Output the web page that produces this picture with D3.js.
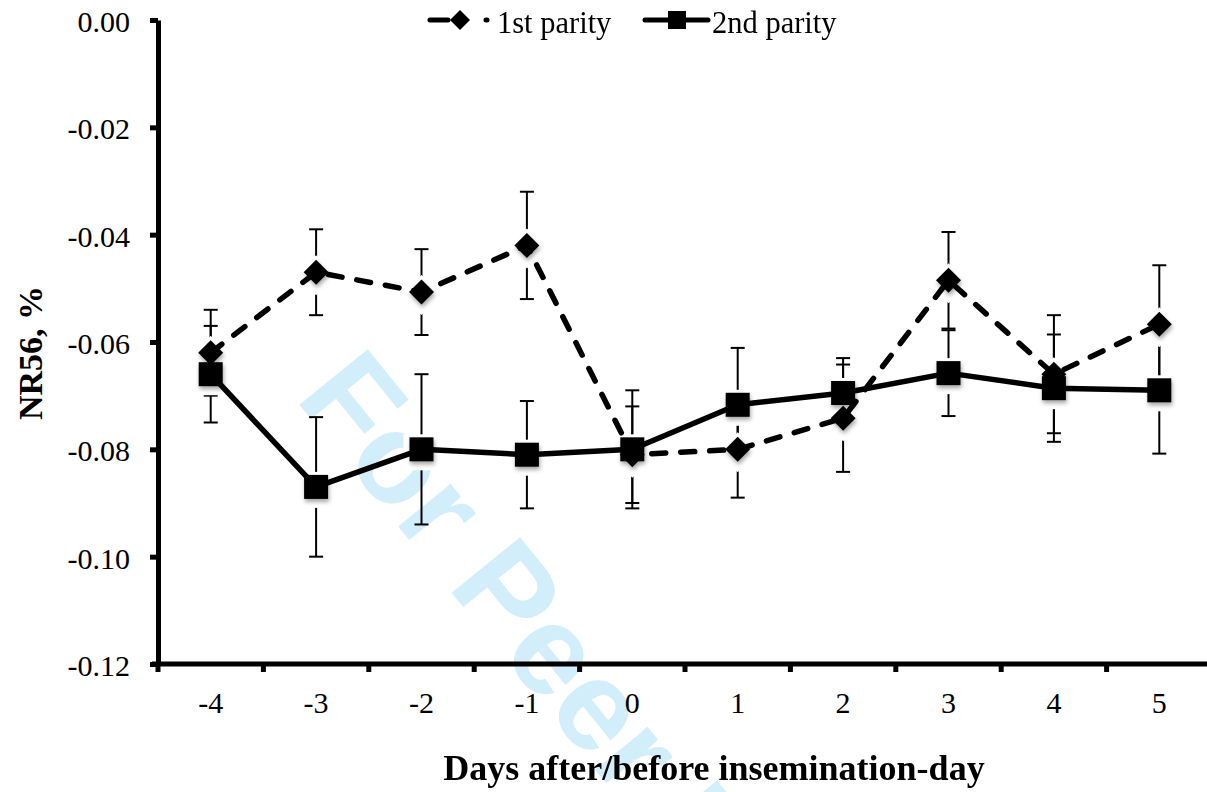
<!doctype html>
<html lang="en">

<head>
  <meta charset="UTF-8">
  <title>NR56 by day</title>
  <style type="text/css">
    * {
      padding: 0;
      margin: 0;
    }

    body {
      background: #fff;
    }

    .axis text {
      font-family: "Liberation Serif", "Times New Roman", serif;
      font-size: 30px;
      fill: #000;
    }
  </style>
  <script src="https://cdn.jsdelivr.net/npm/d3@7/dist/d3.min.js"></script>
</head>

<body>
  <svg width="1207" height="792"></svg>

  <script>
    var categories = ["-4", "-3", "-2", "-1", "0", "1", "2", "3", "4", "5"];
    var firstParity = [-0.062, -0.047, -0.0507, -0.042, -0.081, -0.080, -0.0742, -0.0485, -0.066, -0.0567];
    var firstErr = [0.008, 0.008, 0.008, 0.010, 0.009, 0.009, 0.010, 0.009, 0.011, 0.011];
    var secondParity = [-0.066, -0.087, -0.080, -0.081, -0.080, -0.0717, -0.0695, -0.0658, -0.0686, -0.069];
    var secondErr = [0.009, 0.013, 0.014, 0.010, 0.011, 0.0106, 0.0065, 0.008, 0.010, 0.0118];
    var yTicks = [0, -0.02, -0.04, -0.06, -0.08, -0.10, -0.12];
    var yTickLabels = ["0.00", "-0.02", "-0.04", "-0.06", "-0.08", "-0.10", "-0.12"];

    var serif = "'Liberation Serif', 'Times New Roman', serif";
    var svg = d3.select("svg");

    // soft shadow under the markers
    var defs = svg.append("defs");
    defs.append("filter")
      .attr("id", "shadow")
      .attr("x", "-50%").attr("y", "-50%").attr("width", "200%").attr("height", "200%")
      .append("feDropShadow")
      .attr("dx", 1).attr("dy", 3).attr("stdDeviation", 2)
      .attr("flood-color", "#000").attr("flood-opacity", 0.35);

    // watermark
    svg.append("text")
      .attr("transform", "translate(294,398) rotate(51)")
      .attr("font-family", "'Liberation Sans', Arial, sans-serif")
      .attr("font-weight", "bold")
      .attr("font-size", 128)
      .attr("fill", "#d3eefb")
      .text("For Peer Review");

    var x = d3.scaleBand()
      .domain(categories)
      .range([158, 1212])
      .paddingInner(0)
      .paddingOuter(0);

    var y = d3.scaleLinear()
      .domain([-0.12, 0])
      .range([664, 20]);

    var cx = function (i) { return x(categories[i]) + x.bandwidth() / 2; };

    var series = [
      { name: "1st parity", values: firstParity, err: firstErr, dash: "14,15", shape: "diamond" },
      { name: "2nd parity", values: secondParity, err: secondErr, dash: null, shape: "square" }
    ];

    // error bars
    var eb = svg.append("g");
    series.forEach(function (s) {
      s.values.forEach(function (v, i) {
        var px = cx(i);
        eb.append("line")
          .attr("x1", px).attr("x2", px)
          .attr("y1", y(v + s.err[i])).attr("y2", y(v - s.err[i]))
          .attr("stroke", "#000").attr("stroke-width", 2);
        [v + s.err[i], v - s.err[i]].forEach(function (e) {
          eb.append("line")
            .attr("x1", px - 7).attr("x2", px + 7)
            .attr("y1", y(e)).attr("y2", y(e))
            .attr("stroke", "#000").attr("stroke-width", 2);
        });
      });
    });

    var diamond = d3.symbol().type(d3.symbolDiamond2);

    // size = width across for squares, diagonal for diamonds
    function marker(g, shape, px, py, size) {
      if (shape === "square") {
        return g.append("rect")
          .attr("x", px - size / 2).attr("y", py - size / 2)
          .attr("width", size).attr("height", size);
      }
      var area = Math.pow(size / 1.2525, 2);
      return g.append("path")
        .attr("d", diamond.size(area)())
        .attr("transform", "translate(" + px + "," + py + ")");
    }

    // white halos behind markers
    var halo = svg.append("g");
    series.forEach(function (s) {
      s.values.forEach(function (v, i) {
        marker(halo, s.shape, cx(i), y(v) + 3, s.shape === "square" ? 36 : 40)
          .attr("fill", "#fff");
      });
    });

    // lines
    var line = d3.line()
      .x(function (d, i) { return cx(i); })
      .y(function (d) { return y(d); });

    series.forEach(function (s) {
      svg.append("path")
        .datum(s.values)
        .attr("d", line)
        .attr("fill", "none")
        .attr("stroke", "#000")
        .attr("stroke-width", 5.5)
        .attr("stroke-linecap", s.dash ? "round" : "butt")
        .attr("stroke-linejoin", "round")
        .attr("stroke-dasharray", s.dash);
    });

    // markers
    var mk = svg.append("g").attr("filter", "url(#shadow)");
    series.forEach(function (s) {
      s.values.forEach(function (v, i) {
        marker(mk, s.shape, cx(i), y(v), s.shape === "square" ? 24 : 25)
          .attr("fill", "#000");
      });
    });

    // y axis
    var yAxis = d3.axisLeft(y)
      .tickValues(yTicks)
      .tickFormat(function (d, i) { return yTickLabels[i]; })
      .tickSize(8)
      .tickSizeOuter(0)
      .tickPadding(20);

    var gy = svg.append("g")
      .attr("class", "axis")
      .attr("transform", "translate(158,0)")
      .call(yAxis);
    gy.select(".domain").attr("stroke-width", 5);
    gy.selectAll(".tick line").attr("stroke-width", 5);
    gy.selectAll(".tick text").attr("dy", "0.38em");

    // x axis (labels at band centres, ticks at band edges)
    var xAxis = d3.axisBottom(x)
      .tickSize(0)
      .tickSizeOuter(0)
      .tickPadding(28);

    var gx = svg.append("g")
      .attr("class", "axis")
      .attr("transform", "translate(0,664)")
      .call(xAxis);
    gx.select(".domain").attr("stroke-width", 5).attr("d", "M152,0H1212");

    gx.selectAll(".edge")
      .data(d3.range(categories.length + 1))
      .enter()
      .append("line")
      .attr("class", "edge")
      .attr("x1", function (d) { return x.range()[0] + d * x.step(); })
      .attr("x2", function (d) { return x.range()[0] + d * x.step(); })
      .attr("y1", 0).attr("y2", 8)
      .attr("stroke", "#000").attr("stroke-width", 5);

    // axis titles
    svg.append("text")
      .attr("transform", "translate(42,353) rotate(-90)")
      .attr("text-anchor", "middle")
      .attr("font-family", serif)
      .attr("font-weight", "bold")
      .attr("font-size", 34)
      .text("NR56, %");

    svg.append("text")
      .attr("x", 714).attr("y", 780)
      .attr("text-anchor", "middle")
      .attr("font-family", serif)
      .attr("font-weight", "bold")
      .attr("font-size", 36)
      .text("Days after/before insemination-day");

    // legend
    var legend = svg.append("g");
    var legendItems = [
      { s: series[0], x0: 430, x1: 490, mx: 460, tx: 497 },
      { s: series[1], x0: 645, x1: 708, mx: 677, tx: 712 }
    ];
    legendItems.forEach(function (d) {
      legend.append("line")
        .attr("x1", d.x0).attr("x2", d.x1)
        .attr("y1", 20).attr("y2", 20)
        .attr("stroke", "#000").attr("stroke-width", 5)
        .attr("stroke-linecap", "round")
        .attr("stroke-dasharray", d.s.dash ? "18,38,1,20" : null);
      marker(legend, d.s.shape, d.mx, 20, d.s.shape === "square" ? 18 : 20)
        .attr("fill", "#000");
      legend.append("text")
        .attr("x", d.tx).attr("y", 33)
        .attr("font-family", serif)
        .attr("font-size", 30.5)
        .text(d.s.name);
    });
  </script>
</body>

</html>
